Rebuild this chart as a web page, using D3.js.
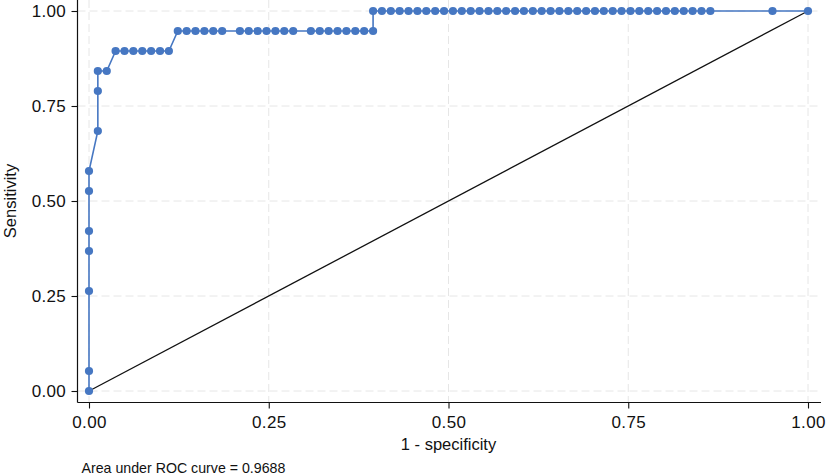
<!DOCTYPE html>
<html><head><meta charset="utf-8">
<script src="https://cdn.jsdelivr.net/npm/d3@7"></script>
<style>body{margin:0;background:#fff}svg{display:block}text{font-family:"Liberation Sans",Arial,Helvetica,sans-serif;fill:#111}</style>
</head><body><div id="chart"></div>
<script>
// ROC points: 1 - specificity and sensitivity
const fpr = [0,0,0,0,0,0,0,
  0.0123,0.0123,0.0123,0.0247,
  0.0370,0.0494,0.0617,0.0741,0.0864,0.0988,0.1111,
  0.1235,0.1358,0.1481,0.1605,0.1728,0.1852,
  0.2099,0.2222,0.2346,0.2469,0.2593,0.2716,0.2840,
  0.3086,0.3210,0.3333,0.3457,0.3580,0.3704,0.3827,0.3951,
  0.3951,0.4074,0.4198,0.4321,0.4444,0.4568,0.4691,0.4815,0.4938,0.5062,0.5185,0.5309,0.5432,
  0.5556,0.5679,0.5802,0.5926,0.6049,0.6173,0.6296,0.6420,0.6543,0.6667,0.6790,0.6914,0.7037,
  0.7160,0.7284,0.7407,0.7531,0.7654,0.7778,0.7901,0.8025,0.8148,0.8272,0.8395,0.8519,0.8642,
  0.9506,1.0];
const sens = [0,0.0526,0.2632,0.3684,0.4211,0.5263,0.5789,
  0.6842,0.7895,0.8421,0.8421,
  0.8947,0.8947,0.8947,0.8947,0.8947,0.8947,0.8947,
  0.9474,0.9474,0.9474,0.9474,0.9474,0.9474,
  0.9474,0.9474,0.9474,0.9474,0.9474,0.9474,0.9474,
  0.9474,0.9474,0.9474,0.9474,0.9474,0.9474,0.9474,0.9474,
  1,1,1,1,1,1,1,1,1,1,1,1,1,
  1,1,1,1,1,1,1,1,1,1,1,1,1,
  1,1,1,1,1,1,1,1,1,1,1,1,1,
  1,1];
const refLine = [[0,0],[1,1]];
const tickValues = [0,0.25,0.5,0.75,1];
const xTitle = "1 - specificity";
const yTitle = "Sensitivity";
const note = "Area under ROC curve = 0.9688";

const W=826,H=475;
const svg=d3.select("#chart").append("svg").attr("width",W).attr("height",H);
const x=d3.scaleLinear().domain([0,1]).range([89,808]);
const y=d3.scaleLinear().domain([0,1]).range([391,11]);
const axL=77.5, axB=402.5;

// grid
const g=svg.append("g");
g.selectAll("line.gy").data(tickValues).join("line")
  .attr("x1",axL).attr("x2",821).attr("y1",d=>y(d)).attr("y2",d=>y(d))
  .attr("stroke","#e6e6e6").attr("stroke-width",1).attr("stroke-dasharray","8,4");
g.selectAll("line.gx").data(tickValues).join("line")
  .attr("y1",0).attr("y2",axB).attr("x1",d=>x(d)).attr("x2",d=>x(d))
  .attr("stroke","#e6e6e6").attr("stroke-width",1).attr("stroke-dasharray","8,4");

// axes
const yAxis=d3.axisLeft(y).tickValues(tickValues).tickFormat(d3.format(".2f")).tickSize(6).tickPadding(5.5);
const yg=svg.append("g").attr("transform",`translate(${axL},0)`).call(yAxis);
yg.select(".domain").remove();
yg.append("line").attr("x1",0).attr("x2",0).attr("y1",0).attr("y2",axB).attr("stroke","#111").attr("stroke-width",1.2);
const xAxis=d3.axisBottom(x).tickValues(tickValues).tickFormat(d3.format(".2f")).tickSize(6).tickPadding(7.5);
const xg=svg.append("g").attr("transform",`translate(0,${axB})`).call(xAxis);
xg.select(".domain").remove();
xg.append("line").attr("x1",axL).attr("x2",821).attr("y1",0).attr("y2",0).attr("stroke","#111").attr("stroke-width",1.2);
svg.selectAll(".tick line").attr("stroke","#111").attr("stroke-width",1.1);
svg.selectAll(".tick text").attr("font-size",17).attr("letter-spacing","0.3px").attr("fill","#111").style("font-family","'Liberation Sans',Arial,sans-serif");

// reference line
svg.append("path").datum(refLine)
  .attr("d",d3.line().x(d=>x(d[0])).y(d=>y(d[1])))
  .attr("fill","none").attr("stroke","#111").attr("stroke-width",1.3);

// ROC curve
const pts=fpr.map((f,i)=>[f,sens[i]]);
svg.append("path").datum(pts)
  .attr("d",d3.line().x(d=>x(d[0])).y(d=>y(d[1])))
  .attr("fill","none").attr("stroke","#4677c2").attr("stroke-width",1.6);
svg.selectAll("circle.pt").data(pts).join("circle")
  .attr("cx",d=>x(d[0])).attr("cy",d=>y(d[1])).attr("r",4.1).attr("fill","#4677c2");

// titles
svg.append("text").attr("x",x(0.5)).attr("y",450).attr("text-anchor","middle").attr("font-size",16.5).text(xTitle);
svg.append("text").attr("transform",`translate(15.5,${y(0.5)}) rotate(-90)`).attr("text-anchor","middle").attr("font-size",16.5).text(yTitle);
svg.append("text").attr("x",81.5).attr("y",473).attr("font-size",14.2).text(note);
</script></body></html>
